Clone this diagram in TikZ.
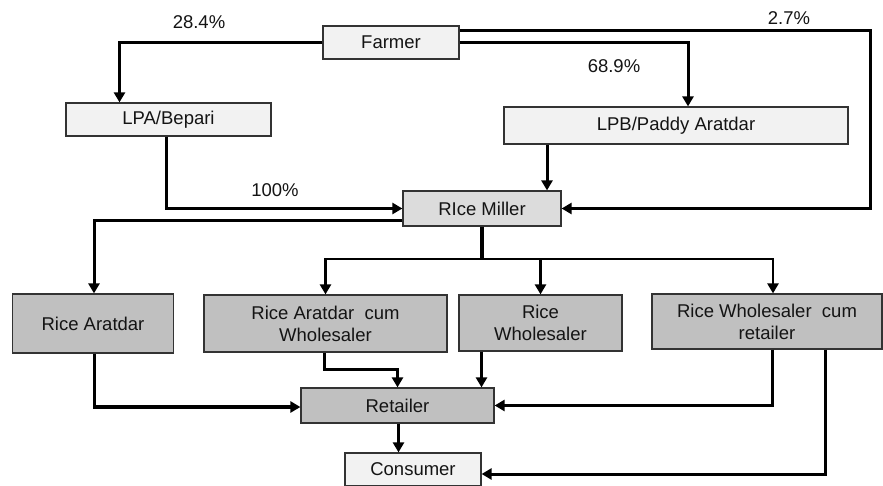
\documentclass[tikz,border=0pt]{standalone}
\usepackage{fontspec}
\setmainfont{Liberation Sans}
\usetikzlibrary{arrows.meta}
\definecolor{lightbox}{HTML}{F2F2F2}
\definecolor{midbox}{HTML}{DCDCDC}
\definecolor{darkbox}{HTML}{C0C0C0}
\definecolor{edge}{HTML}{333333}
\definecolor{txt}{HTML}{141414}
\tikzset{
  box/.style={draw=edge, line width=1.2pt, rectangle, inner sep=0pt, align=center,
    text=txt, font=\fontsize{18.5}{22}\selectfont},
  lbox/.style={box, fill=lightbox},
  mbox/.style={box, fill=midbox},
  dbox/.style={box, fill=darkbox},
  arr/.style={line width=3pt, -{Triangle[width=11pt,length=10pt]}},
  thinarr/.style={line width=2.4pt, -{Triangle[width=11pt,length=10pt]}},
  heavyarr/.style={line width=3.4pt, -{Triangle[width=11pt,length=10pt]}},
  trunk/.style={line width=4pt},
  pct/.style={text=txt, font=\fontsize{18.5}{22}\selectfont, inner sep=0pt}
}
\begin{document}
\begin{tikzpicture}[x=1pt,y=-1pt]
\useasboundingbox (0,0) rectangle (883,485);

\node[lbox, minimum width=136pt, minimum height=33pt] (farmer) at (391,42.5) {Farmer};
\node[lbox, minimum width=205pt, minimum height=33pt] (lpa) at (168.5,119.5) {LPA/Bepari};
\node[lbox, minimum width=344pt, minimum height=37pt] (lpb) at (676,125.5) {LPB/Paddy Aratdar};
\node[mbox, minimum width=158pt, minimum height=35pt] (miller) at (482,208.5) {RIce Miller};
\node[dbox, minimum width=161pt, minimum height=59pt] (raratdar) at (93,323.5) {Rice Aratdar};
\node[dbox, minimum width=243pt, minimum height=57pt] (racw) at (325.5,323.5) {Rice Aratdar\ \ cum\\Wholesaler};
\node[dbox, minimum width=163pt, minimum height=56pt] (rw) at (540.5,323) {Rice\\Wholesaler};
\node[dbox, minimum width=230pt, minimum height=55pt] (rwcr) at (767,321.5) {Rice Wholesaler\ \ cum\\retailer};
\node[dbox, minimum width=193pt, minimum height=35pt] (retailer) at (397.5,405.5) {Retailer};
\node[lbox, minimum width=136pt, minimum height=33pt] (consumer) at (413,469.5) {Consumer};

\node[pct] (p284) at (199,22.5) {28.4\%};
\node[pct] (p689) at (614,66.5) {68.9\%};
\node[pct] (p27) at (789,18.5) {2.7\%};
\node[pct] (p100) at (275,190.5) {100\%};

\coordinate (rightx) at (870,0);
\coordinate (bus) at (0,259);
\coordinate (rowc) at (0,369.3);
\coordinate (m5) at ([xshift=65pt]miller.north);
\coordinate (m10) at ([xshift=84pt]retailer.north);

% Farmer flows
\draw[arr] (farmer.west) -| ([xshift=-49pt]lpa.north);
\draw[arr] (farmer.east) -| ([xshift=12pt]lpb.north);
\draw[arr] ([yshift=12pt]farmer.east) -| (rightx |- miller.east) -- (miller.east);

% to miller
\draw[heavyarr] ([xshift=-2pt]lpa.south) |- (miller.west);
\draw[arr] (m5 |- lpb.south) -- (m5);

% miller outflows
\draw[arr] ([yshift=-12pt]miller.west) -| ([xshift=1pt]raratdar.north);
\draw[trunk] (miller.south) -- (miller.south |- bus);
\draw[thinarr] (miller.south |- bus) -| (racw.north);
\draw[thinarr] (miller.south |- bus) -| (rw.north);
\draw[thinarr] (miller.south |- bus) -| ([xshift=6pt]rwcr.north);

% to retailer
\draw[heavyarr] ([xshift=1.5pt]raratdar.south) |- ([yshift=-1.5pt]retailer.west);
\draw[arr] ([xshift=-1.5pt]racw.south) -- ([xshift=-1.5pt]racw.south |- rowc) -| (retailer.north);
\draw[thinarr] (m10 |- rw.south) -- (m10);
\draw[arr] ([xshift=5.5pt]rwcr.south) |- (retailer.east);

% to consumer
\draw[thinarr] ([xshift=1pt]retailer.south) -- ([xshift=1pt]retailer.south |- consumer.north);
\draw[arr] ([xshift=58pt]rwcr.south) |- ([yshift=-4.5pt]consumer.east);
\end{tikzpicture}
\end{document}
